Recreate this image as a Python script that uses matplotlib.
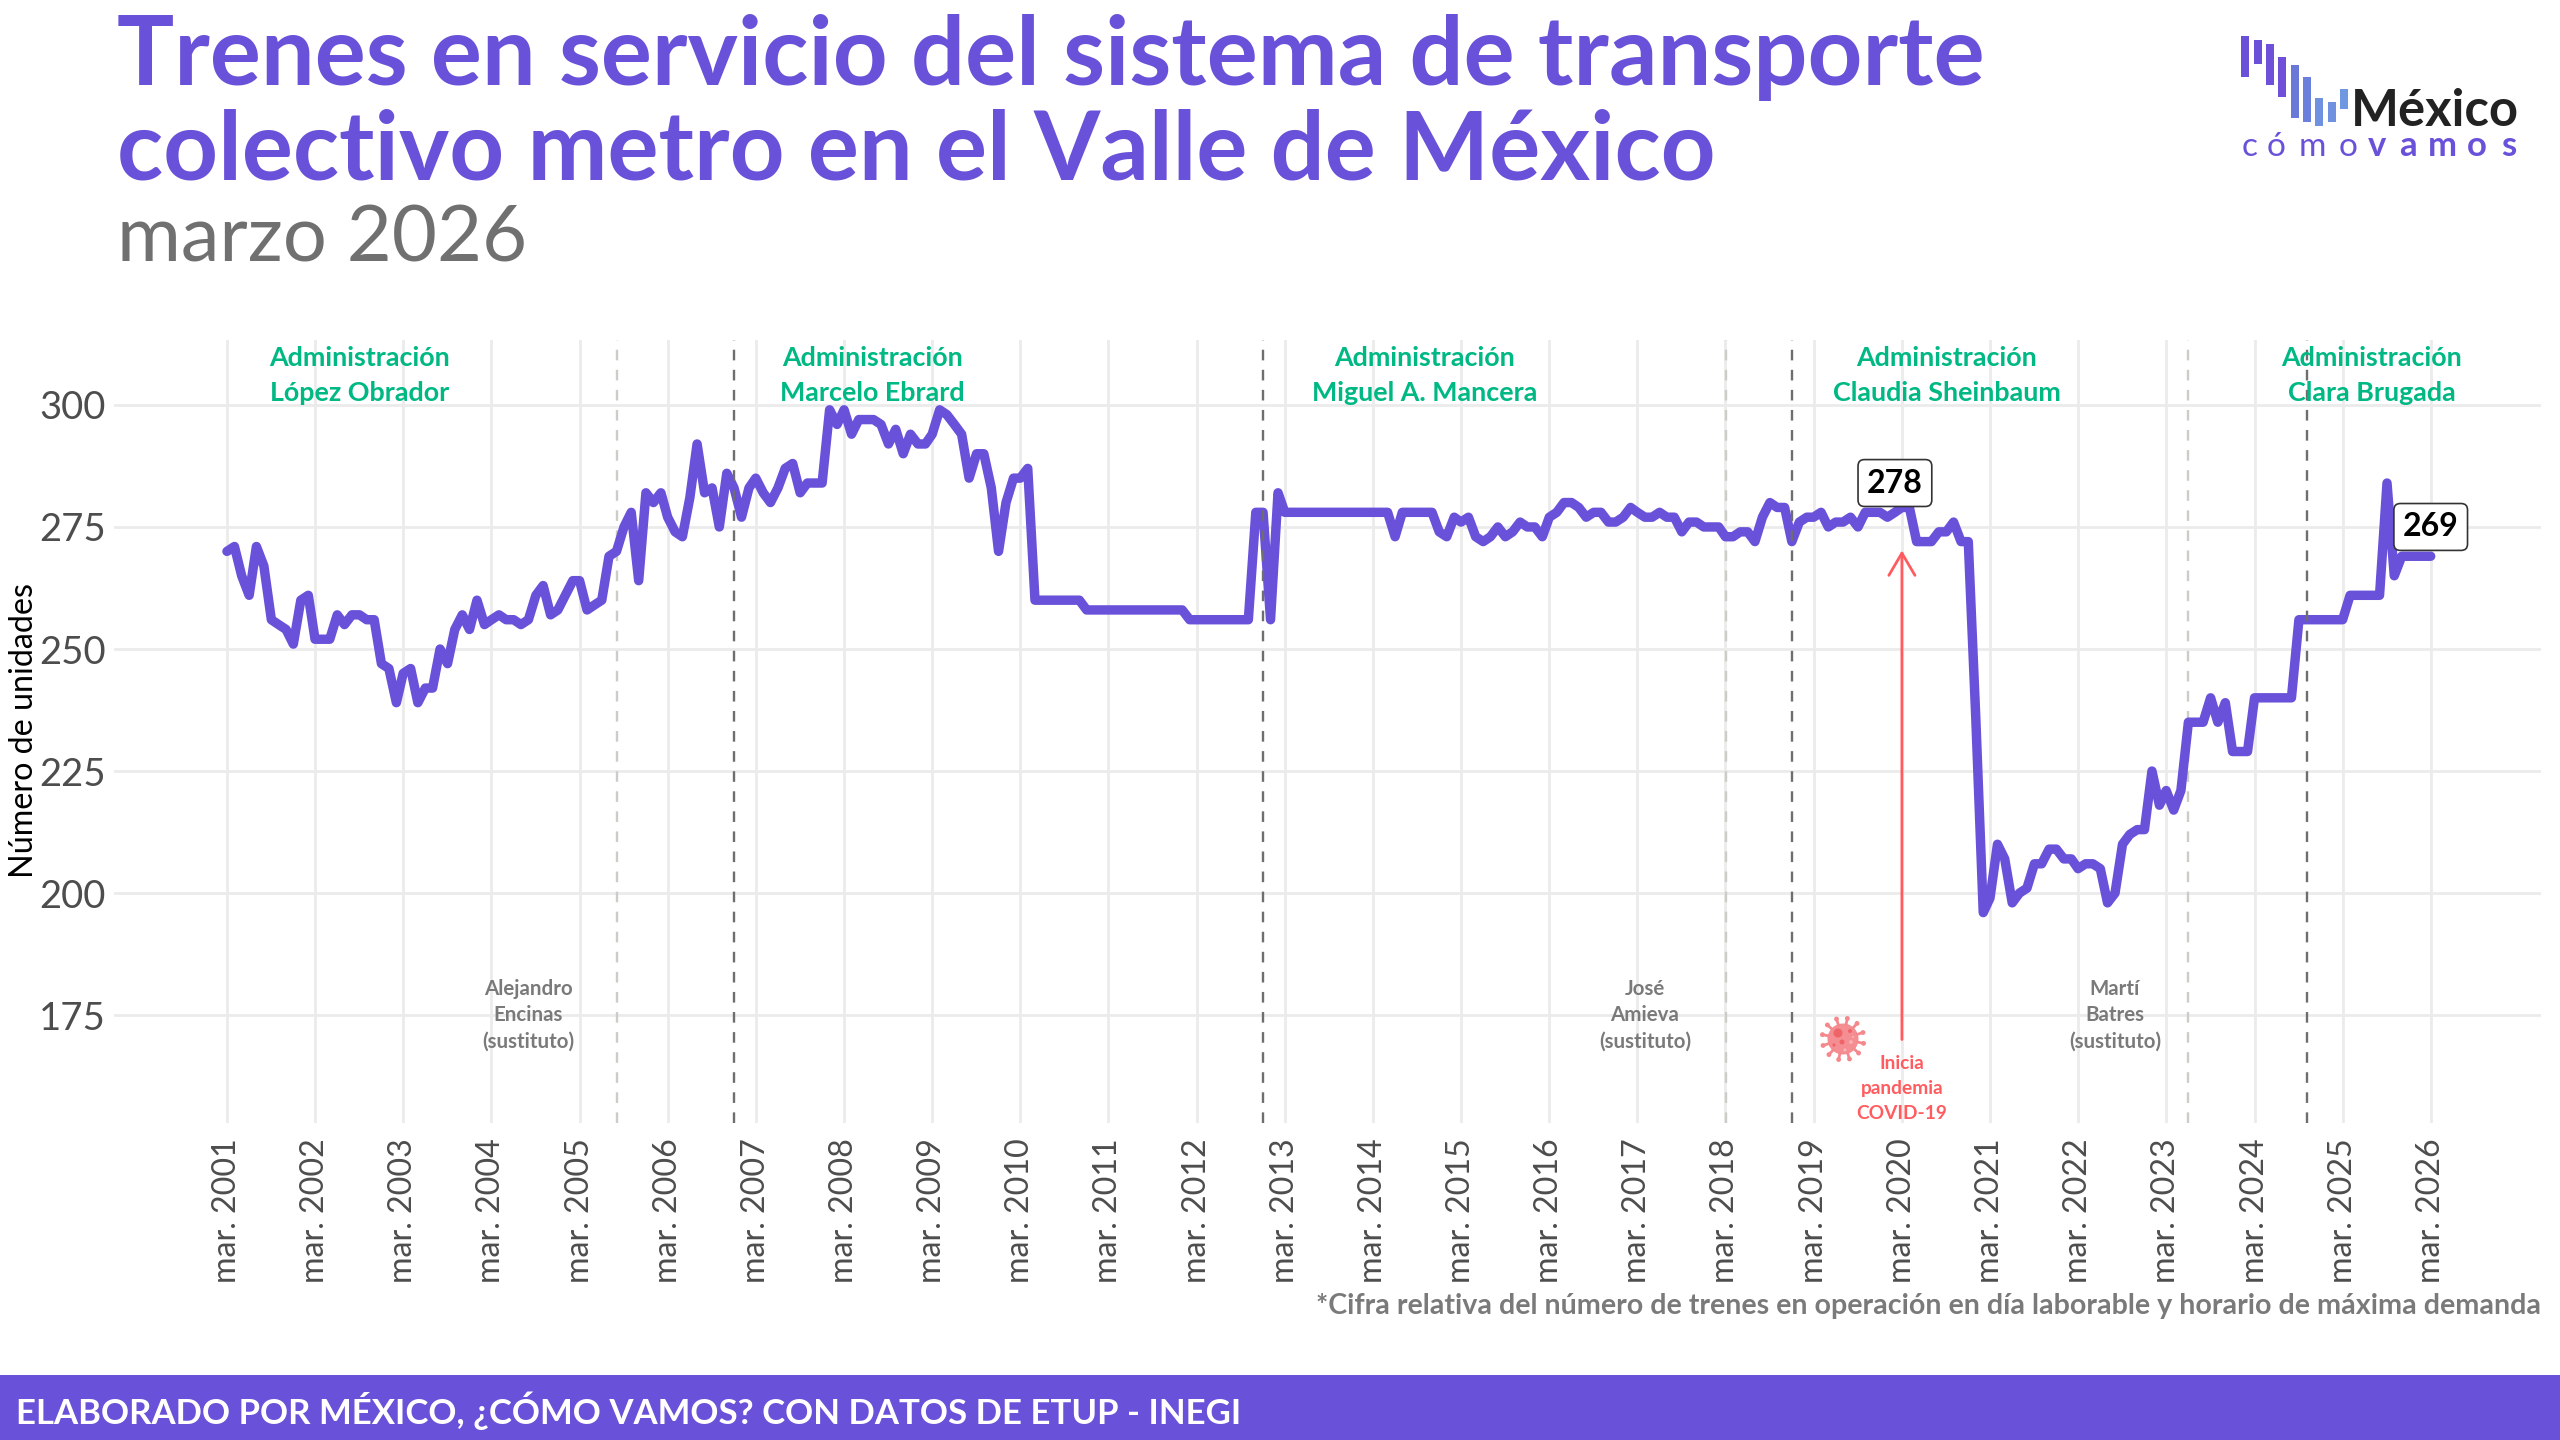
import matplotlib
matplotlib.use("Agg")
import matplotlib.pyplot as plt
from matplotlib.patches import Circle, Rectangle
from matplotlib.transforms import Affine2D, ScaledTranslation
import numpy as np
import pandas as pd

plt.rcParams["font.family"] = ["Lato", "DejaVu Sans"]

PURPLE = "#6951D9"
GREEN = "#00B884"
RED = "#FF5C60"
GRAY = "#7A7A7A"

# trenes en servicio, mensual, marzo 2001 - marzo 2026
trenes = [
    270, 271, 265, 261, 271, 267, 256, 255, 254, 251, 260, 261,
    252, 252, 252, 257, 255, 257, 257, 256, 256, 247, 246, 239,
    245, 246, 239, 242, 242, 250, 247, 254, 257, 254, 260, 255,
    256, 257, 256, 256, 255, 256, 261, 263, 257, 258, 261, 264,
    264, 258, 259, 260, 269, 270, 275, 278, 264, 282, 280, 282,
    277, 274, 273, 281, 292, 282, 283, 275, 286, 283, 277, 283,
    285, 282, 280, 283, 287, 288, 282, 284, 284, 284, 299, 296,
    299, 294, 297, 297, 297, 296, 292, 295, 290, 294, 292, 292,
    294, 299, 298, 296, 294, 285, 290, 290, 283, 270, 280, 285,
    285, 287, 260, 260, 260, 260, 260, 260, 260, 258, 258, 258,
    258, 258, 258, 258, 258, 258, 258, 258, 258, 258, 258, 256,
    256, 256, 256, 256, 256, 256, 256, 256, 278, 278, 256, 282,
    278, 278, 278, 278, 278, 278, 278, 278, 278, 278, 278, 278,
    278, 278, 278, 273, 278, 278, 278, 278, 278, 274, 273, 277,
    276, 277, 273, 272, 273, 275, 273, 274, 276, 275, 275, 273,
    277, 278, 280, 280, 279, 277, 278, 278, 276, 276, 277, 279,
    278, 277, 277, 278, 277, 277, 274, 276, 276, 275, 275, 275,
    273, 273, 274, 274, 272, 277, 280, 279, 279, 272, 276, 277,
    277, 278, 275, 276, 276, 277, 275, 278, 278, 278, 277, 278,
    279, 279, 272, 272, 272, 274, 274, 276, 272, 272, 236, 196,
    199, 210, 207, 198, 200, 201, 206, 206, 209, 209, 207, 207,
    205, 206, 206, 205, 198, 200, 210, 212, 213, 213, 225, 218,
    221, 217, 221, 235, 235, 235, 240, 235, 239, 229, 229, 229,
    240, 240, 240, 240, 240, 240, 256, 256, 256, 256, 256, 256,
    256, 261, 261, 261, 261, 261, 284, 265, 269, 269, 269, 269,
    269,
]
fechas = pd.date_range("2001-03-01", periods=len(trenes), freq="MS")

anios_eje = list(range(2001, 2027))
yticks = [175, 200, 225, 250, 275, 300]

admin_nombres = ["López Obrador", "Marcelo Ebrard", "Miguel A. Mancera",
                 "Claudia Sheinbaum", "Clara Brugada"]
admin_fechas = ["2002-09-01", "2008-06-26", "2014-10-01", "2020-09-03", "2025-06-30"]

cambios = ["2006-12-01", "2012-12-01", "2018-12-01", "2024-10-04"]
sustituciones = ["2005-08-05", "2018-03-05", "2023-05-30"]

sust_nombres = ["Alejandro\nEncinas\n(sustituto)", "José\nAmieva\n(sustituto)", "Martí\nBatres\n(sustituto)"]
sust_fechas = ["2004-08-01", "2017-04-01", "2022-08-01"]

fig = plt.figure(figsize=(25.6, 14.4), dpi=100, facecolor="white")
# coordenadas en pixeles con origen arriba a la izquierda
px = Affine2D().scale(1 / 2560, -1 / 1440).translate(0, 1) + fig.transFigure

ax = fig.add_axes([114 / 2560, 1 - 1123 / 1440, 2427 / 2560, 783 / 1440])
ax.set_xlim(pd.Timestamp("1999-11-19"), pd.Timestamp("2027-06-01"))
ax.set_ylim(152.9, 313.3)
for s in ax.spines.values():
    s.set_visible(False)

ax.set_xticks([pd.Timestamp(f"{a}-03-01") for a in anios_eje])
ax.set_xticklabels([f"mar. {a}" for a in anios_eje], rotation=90, fontsize=23.2, color="#4d4d4d")
desplazo = ScaledTranslation(3 / 72, 0, fig.dpi_scale_trans)
for etiqueta in ax.get_xticklabels():
    etiqueta.set_transform(etiqueta.get_transform() + desplazo)
ax.set_yticks(yticks)
ax.set_yticklabels([str(v) for v in yticks], fontsize=27.5, color="#4d4d4d")
ax.tick_params(length=0, axis="x", pad=11)
ax.tick_params(length=0, axis="y", pad=6)
ax.grid(True, color="#EBEBEB", lw=2)
ax.set_axisbelow(True)

ax.plot(fechas, trenes, color=PURPLE, lw=6.8, solid_joinstyle="round", solid_capstyle="round", zorder=3)

for f in cambios:
    ax.axvline(pd.Timestamp(f), color="#6e6e6e", lw=1.7, dashes=(4.5, 4), zorder=4)
for f in sustituciones:
    ax.axvline(pd.Timestamp(f), color="#cdcdc8", lw=1.7, dashes=(4.5, 4), zorder=2)

for nombre, f in zip(admin_nombres, admin_fechas):
    ax.text(pd.Timestamp(f), 306.1, f"Administración\n{nombre}", color=GREEN, fontsize=19.4,
            fontweight="bold", ha="center", va="center", linespacing=1.55, zorder=5)

for nombre, f in zip(sust_nombres, sust_fechas):
    ax.text(pd.Timestamp(f), 175, nombre, color=GRAY, fontsize=14.8, fontweight="bold",
            ha="center", va="center", linespacing=1.4, zorder=5)

# etiquetas con valor: pico antes de la pandemia y ultimo dato
for i in [fechas.get_loc(pd.Timestamp("2020-02-01")), len(trenes) - 1]:
    ax.text(fechas[i], trenes[i] + 6, str(trenes[i]), fontsize=23, fontweight="bold", color="black",
            ha="center", va="center", zorder=6,
            bbox=dict(boxstyle="round,pad=0.28,rounding_size=0.2", fc="white", ec="#333333", lw=1.2))

# flecha de inicio de pandemia
covid = pd.Timestamp("2020-03-01")
ax.annotate("", xy=(covid, 270.2), xytext=(covid, 170), zorder=4,
            arrowprops=dict(arrowstyle="->,head_length=1.6,head_width=0.94", color=RED, lw=2,
                            shrinkA=0, shrinkB=0, mutation_scale=10))
ax.text(covid, 160, "Inicia\npandemia\nCOVID-19", color=RED, fontsize=13.8, fontweight="bold",
        ha="center", va="center", linespacing=1.55, zorder=5)

# icono del virus
vx, vy = 1843, 1039
for ang in np.arange(0, 360, 30) + 12:
    c, s = np.cos(np.radians(ang)), np.sin(np.radians(ang))
    fig.add_artist(plt.Line2D([vx + 15 * c, vx + 20 * c], [vy + 15 * s, vy + 20 * s], color="#F4888C",
                              lw=2, transform=px))
    fig.add_artist(Circle((vx + 21 * c, vy + 21 * s), 2.4, fc="#F4888C", ec="none", transform=px))
fig.add_artist(Circle((vx, vy), 15.5, fc="#F58E92", ec="none", transform=px))
for dx, dy, r in [(-5, -6, 4.5), (7, -8, 2), (-1, 3, 2.5), (-9, 6, 1.6)]:
    fig.add_artist(Circle((vx + dx, vy + dy), r, fc="#EE6468", ec="none", transform=px))
for dx, dy, r in [(8, 3, 1.8), (2, 11, 1.5), (10, -2, 1)]:
    fig.add_artist(Circle((vx + dx, vy + dy), r, fc="#F9B4B6", ec="none", transform=px))

# titulo
fig.text(117, 85, "Trenes en servicio del sistema de transporte", transform=px, color=PURPLE,
         fontsize=68.8, fontweight="bold", va="baseline")
fig.text(117, 180, "colectivo metro en el Valle de México", transform=px, color=PURPLE,
         fontsize=68.8, fontweight="bold", va="baseline")
fig.text(117, 261, "marzo 2026", transform=px, color="#707070", fontsize=56, va="baseline")

# pie
fig.text(24, 731, "Número de unidades", transform=px, rotation=90, fontsize=23.2, color="black",
         ha="center", va="center")
fig.text(2541, 1306, "*Cifra relativa del número de trenes en operación en día laborable y horario de máxima demanda",
         transform=px, color=GRAY, fontsize=20.6, fontweight="bold", ha="right", va="center")
fig.add_artist(Rectangle((0, 1375), 2560, 65, fc=PURPLE, ec="none", transform=px))
fig.text(16, 1411, "ELABORADO POR MÉXICO, ¿CÓMO VAMOS? CON DATOS DE ETUP - INEGI", transform=px,
         color="white", fontsize=25, fontweight="bold", va="center")

# logo
barras_x = [124, 161, 198, 235, 272, 309, 346, 383, 420]
barras_arriba = [108, 120, 133, 170, 195, 232, 293, 305, 268]
barras_abajo = [230, 193, 255, 291, 353, 365, 378, 365, 328]
barras_color = ["#6A4FD8", "#6A4FD8", "#6F50D8", "#7050D8", "#6A78D8", "#6A80DC", "#7090E0", "#7090E0", "#6F98E0"]
for bx, t, b, col in zip(barras_x, barras_arriba, barras_abajo, barras_color):
    fig.add_artist(Rectangle((2200 + bx / 3, t / 3), 8, (b - t) / 3, fc=col, ec="none", transform=px))
fig.text(2351, 126, "México", transform=px, color="#222222", fontsize=36.5, fontweight="bold", va="baseline")
for letra, lx in zip("cómo", [148, 228, 338, 443]):
    fig.text(2200 + lx / 3, 156, letra, transform=px, color=PURPLE, fontsize=24, fontweight="normal",
             ha="center", va="baseline")
for letra, lx in zip("vamos", [530, 625, 728, 830, 925]):
    fig.text(2200 + lx / 3, 156, letra, transform=px, color=PURPLE, fontsize=25, fontweight="bold",
             ha="center", va="baseline")

fig.savefig("out.png", dpi=100)
